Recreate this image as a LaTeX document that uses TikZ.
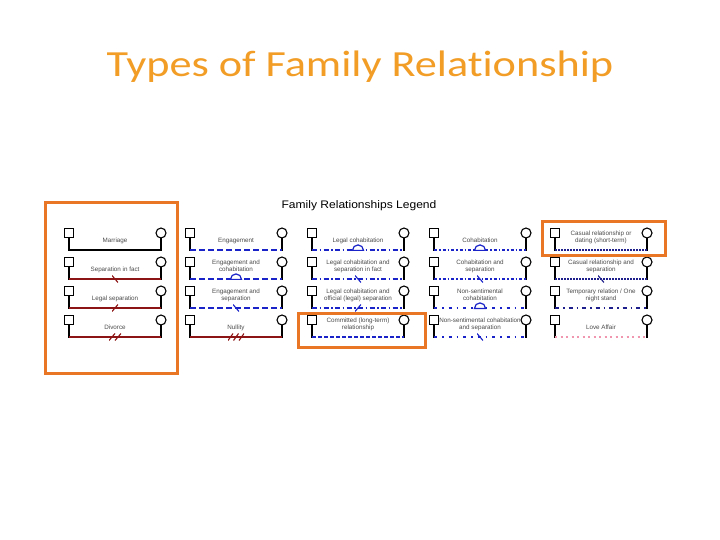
\documentclass[tikz,border=0pt]{standalone}
\usepackage{fontspec}
\setmainfont{Liberation Sans}
\newfontfamily\titlefont[Ligatures=NoCommon]{Carlito}
\usetikzlibrary{shapes.geometric}
\definecolor{titleorange}{RGB}{242,157,38}
\definecolor{boxorange}{RGB}{232,118,36}
\definecolor{kinred}{RGB}{140,20,20}
\definecolor{kinblue}{RGB}{25,35,200}
\definecolor{kinnavy}{RGB}{30,30,140}
\definecolor{kinpink}{RGB}{240,150,175}
\newcommand{\relentry}[6]{%
  \node[male] (#1s) at (#2,#3-17) {};
  \node[female] (#1c) at (#2+92,#3-17) {};
  \coordinate (#1l) at (#2,#3);
  \coordinate (#1r) at (#2+92,#3);
  \draw[stem] (#1s) -- (#1l);
  \draw[stem] (#1c) -- (#1r);
  \draw[#5] (#1l) -- node[#6] (#1m) {} (#1r);
  \node[kinlabel] (#1t) at (#2+46,#3-7.5) {#4};}

\begin{document}
\begin{tikzpicture}[
  x=1bp, y=-1bp,
  male/.style={draw, line width=1.1bp, minimum size=9bp, inner sep=0, fill=white},
  female/.style={circle, draw, line width=1.1bp, minimum size=10bp, inner sep=0,
    fill=white},
  stem/.style={line width=1.6bp, line cap=rect},
  kinlabel/.style={anchor=base, align=center, inner sep=0.5bp, text=black!70,
    font=\fontsize{6.3}{7}\selectfont},
  wed/.style={line width=1.6bp},
  broken/.style={line width=1.6bp, kinred},
  engaged/.style={line width=1.6bp, kinblue, dash pattern=on 6bp off 3bp},
  legalco/.style={line width=1.6bp, kinblue,
    dash pattern=on 5bp off 2.5bp on 1.5bp off 2.5bp},
  committed/.style={line width=1.6bp, kinblue, dash pattern=on 4bp off 2bp},
  cohab/.style={line width=1.6bp, kinblue,
    dash pattern=on 3bp off 2bp on 1.5bp off 2bp},
  loosecohab/.style={line width=1.6bp, kinblue,
    dash pattern=on 3bp off 5bp on 1.5bp off 5bp},
  casual/.style={line width=1.6bp, kinnavy, dash pattern=on 1.5bp off 1.5bp},
  onenight/.style={line width=1.6bp, kinnavy,
    dash pattern=on 4bp off 4bp on 1.5bp off 4bp},
  affair/.style={line width=1.6bp, kinpink, dash pattern=on 2bp off 3.5bp},
  nomark/.style={coordinate},
  home/.style={semicircle, solid, draw=kinblue, fill=white, line width=1.2bp,
    minimum width=11bp, minimum height=5.5bp, inner sep=0, anchor=south,
    yshift=-1bp},
  sepmark/.style={minimum width=6bp, minimum height=7bp, inner sep=0,
    path picture={\draw[solid, line width=1.1bp, #1]
      (path picture bounding box.north west)
      -- (path picture bounding box.south east);}},
  sepmark/.default=kinblue,
  legalmark/.style={minimum width=6bp, minimum height=7bp, inner sep=0,
    path picture={\draw[solid, line width=1.1bp, #1]
      (path picture bounding box.south west)
      -- (path picture bounding box.north east);}},
  legalmark/.default=kinblue,
  divmark/.style={minimum width=12bp, minimum height=7bp, inner sep=0,
    path picture={\draw[solid, line width=1.1bp, kinred]
      (path picture bounding box.south west) -- (path picture bounding box.north)
      (path picture bounding box.south) -- (path picture bounding box.north east);}},
  nullmark/.style={minimum width=16bp, minimum height=7bp, inner sep=0,
    path picture={\foreach \k in {-8,-2.5,3}
      \draw[solid, line width=1.1bp, kinred]
        ([xshift=\k bp, yshift=-3.5bp]path picture bounding box.center)
        -- ++(5bp,7bp);}},
  hilite/.style={draw=boxorange, line width=3bp}]
\useasboundingbox[fill=white] (0,0) rectangle (720,540);
\node[font=\titlefont\fontsize{37}{40}\selectfont, text=titleorange, anchor=base,
  xscale=1.2] (title) at (360,77) {Types of Family Relationship};
\node[font=\fontsize{11}{13}\selectfont, anchor=base, xscale=1.1] (legendtitle)
  at (359,209) {Family Relationships Legend};
% marriage and its breaks
\relentry{mar}{69}{250}{Marriage}{wed}{nomark}
\relentry{sif}{69}{279}{Separation in fact}{broken}{sepmark=kinred}
\relentry{lsp}{69}{308}{Legal separation}{broken}{legalmark=kinred}
\relentry{div}{69}{337}{Divorce}{broken}{divmark}
% engagement
\relentry{eng}{190}{250}{Engagement}{engaged}{nomark}
\relentry{ecb}{190}{279}{Engagement and\\cohabitation}{engaged}{home}
\relentry{esp}{190}{308}{Engagement and\\separation}{engaged}{sepmark}
\relentry{nul}{190}{337}{Nullity}{broken}{nullmark}
% legal cohabitation
\relentry{lco}{312}{250}{Legal cohabitation}{legalco}{home}
\relentry{lcs}{312}{279}{Legal cohabitation and\\separation in fact}{legalco}{sepmark}
\relentry{lcl}{312}{308}{Legal cohabitation and\\official (legal) separation}{legalco}{legalmark}
\relentry{cmt}{312}{337}{Committed (long-term)\\relationship}{committed}{nomark}
% cohabitation
\relentry{coh}{434}{250}{Cohabitation}{cohab}{home}
\relentry{chs}{434}{279}{Cohabitation and\\separation}{cohab}{sepmark}
\relentry{nsc}{434}{308}{Non-sentimental\\cohabitation}{loosecohab}{home}
\relentry{nss}{434}{337}{Non-sentimental cohabitation\\and separation}{loosecohab}{sepmark}
% casual
\relentry{cas}{555}{250}{Casual relationship or\\dating (short-term)}{casual}{nomark}
\relentry{css}{555}{279}{Casual relationship and\\separation}{casual}{sepmark=kinnavy}
\relentry{ons}{555}{308}{Temporary relation / One\\night stand}{onenight}{nomark}
\relentry{laf}{555}{337}{Love Affair}{affair}{nomark}
% highlighted types
\draw[hilite] (45,203) rectangle (177,373);
\draw[hilite] (298,313) rectangle (425,347);
\draw[hilite] (542,222) rectangle (665,256);
\end{tikzpicture}
\end{document}
